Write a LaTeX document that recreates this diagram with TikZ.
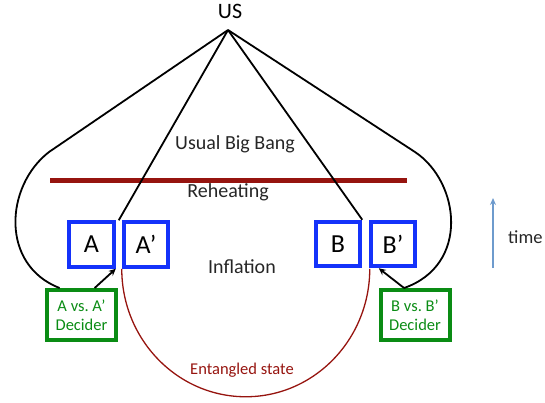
\documentclass[tikz,border=0pt]{standalone}
\usepackage{fontspec}
\setmainfont{Carlito}
\usetikzlibrary{calc,arrows.meta}
\definecolor{boxblue}{RGB}{20,50,250}
\definecolor{decgreen}{RGB}{10,140,20}
\definecolor{darkred}{RGB}{150,20,15}
\definecolor{timeblue}{RGB}{110,155,205}
\begin{document}
\begin{tikzpicture}[x=1pt,y=-1pt,
  bx/.style={draw=boxblue,line width=4pt,minimum width=44.5pt,minimum height=44.5pt,inner sep=0pt,font=\fontsize{26}{28}\selectfont},
  dec/.style={draw=decgreen,line width=4pt,text=decgreen,minimum width=69pt,minimum height=50pt,inner sep=0pt,align=center,font=\fontsize{16.5}{19}\selectfont},
  ln/.style={line width=1.8pt,black},
  arr/.style={ln,-{Stealth[length=7pt,width=6.5pt]}},
  lbl/.style={anchor=base,font=\fontsize{20}{22}\selectfont,text=black!85}]
\useasboundingbox (0,0) rectangle (545,402);

% reheating bar
\coordinate (rh1) at (50,180);
\coordinate (rh2) at (407,180);
\draw[darkred,line width=5pt] (rh1) -- (rh2);

% boxes
\node[bx] (A) at (91.5,244.5) {A};
\node[bx] (Ap) at (146,244.5) {A’};
\node[bx] (B) at (338,244) {B};
\node[bx] (Bp) at (393,244) {B’};
\node[dec] (dA) at (81.5,315) {A vs.\ A’\\Decider};
\node[dec] (dB) at (415,315) {B vs.\ B’\\Decider};

% US
\node[font=\fontsize{22}{24}\selectfont, anchor=base] (US) at (230,18) {US};
\coordinate (apex) at (228,30);

% lines from apex
\draw[ln] (apex) -- ($(A.north east)!0.5!(Ap.north west)$);
\draw[ln] (apex) -- (B.north east);
\draw[ln] (apex) -- (49,152) .. controls (5,186) and (0,265) .. ($(dA.north west)!0.2!(dA.north east)$);
\draw[ln] (apex) -- (415,152) .. controls (460,182) and (470,265) .. ($(dB.north west)!0.35!(dB.north east)$);

% decider arrows
\draw[arr] ($(dA.north west)!0.68!(dA.north east)$) -- (A.south east);
\draw[arr] ($(dB.north west)!0.35!(dB.north east)$) -- ($(Bp.south west)+(10,0)$);

% entangled arc
\draw[darkred,line width=1.3pt] (Ap.south west) arc[start angle=180,end angle=360,x radius=124pt,y radius=128pt];

% time arrow
\coordinate (t0) at (493,268);
\coordinate (t1) at (493,198);
\draw[timeblue,line width=2.6pt,-{Stealth[length=7pt,width=6pt]}] (t0) -- (t1);
\node[anchor=base west,inner sep=0pt,font=\fontsize{18.5}{20}\selectfont,text=black!85] (time) at (508,243) {time};

% labels
\node[lbl] (ubb) at (235,149) {Usual Big Bang};
\node[lbl] (reh) at (228,197.5) {Reheating};
\node[lbl] (inf) at (242,273) {Inflation};
\node[lbl,text=darkred,font=\fontsize{16.5}{18}\selectfont] (ent) at (242,374) {Entangled state};
\end{tikzpicture}
\end{document}
